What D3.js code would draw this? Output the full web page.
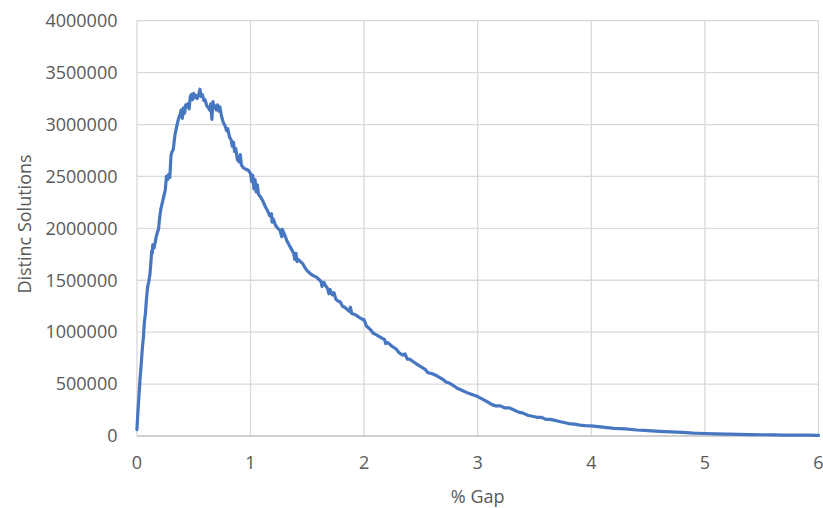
<!DOCTYPE html>
<html>
<head>
<meta charset="utf-8">
<script src="https://cdn.jsdelivr.net/npm/d3@7/dist/d3.min.js"></script>
<style>
  html, body { margin: 0; padding: 0; background: #ffffff; }
  svg { display: block; }
  text { font-family: "Open Sans", "Liberation Sans", sans-serif; fill: #595959; }
</style>
</head>
<body>
<svg id="chart" width="823" height="508"></svg>
<script>
// ---- Data ----
const gapPct = [
  0.000, 0.010, 0.020, 0.027, 0.035, 0.045, 0.050, 0.058, 0.065, 0.075,
  0.085, 0.095, 0.105, 0.115, 0.125, 0.130, 0.135, 0.140, 0.150, 0.160,
  0.170, 0.180, 0.190, 0.200, 0.210, 0.220, 0.235, 0.250, 0.260, 0.270,
  0.280, 0.290, 0.300, 0.310, 0.320, 0.335, 0.350, 0.365, 0.380, 0.390,
  0.400, 0.410, 0.420, 0.430, 0.440, 0.450, 0.460, 0.470, 0.480, 0.490,
  0.500, 0.510, 0.520, 0.530, 0.545, 0.555, 0.565, 0.575, 0.590, 0.600,
  0.615, 0.630, 0.640, 0.650, 0.660, 0.670, 0.680, 0.690, 0.700, 0.710,
  0.720, 0.730, 0.745, 0.760, 0.775, 0.790, 0.800, 0.815, 0.830, 0.840,
  0.850, 0.860, 0.870, 0.885, 0.900, 0.910, 0.920, 0.940, 0.960, 0.980,
  1.000, 1.010, 1.020, 1.030, 1.040, 1.050, 1.060, 1.070, 1.090, 1.110,
  1.130, 1.150, 1.170, 1.185, 1.190, 1.200, 1.220, 1.240, 1.260, 1.275,
  1.280, 1.300, 1.320, 1.340, 1.360, 1.380, 1.390, 1.400, 1.410, 1.420,
  1.440, 1.460, 1.480, 1.500, 1.530, 1.560, 1.580, 1.600, 1.620, 1.630,
  1.645, 1.660, 1.680, 1.690, 1.700, 1.720, 1.735, 1.750, 1.770, 1.790,
  1.810, 1.830, 1.850, 1.870, 1.880, 1.890, 1.920, 1.960, 1.990, 2.000,
  2.020, 2.040, 2.060, 2.080, 2.100, 2.130, 2.160, 2.180, 2.190, 2.210,
  2.250, 2.280, 2.310, 2.340, 2.360, 2.380, 2.400, 2.440, 2.480, 2.510,
  2.540, 2.560, 2.600, 2.640, 2.670, 2.700, 2.720, 2.750, 2.780, 2.820,
  2.860, 2.900, 2.950, 3.000, 3.050, 3.100, 3.130, 3.160, 3.200, 3.240,
  3.280, 3.320, 3.360, 3.400, 3.440, 3.480, 3.520, 3.560, 3.600, 3.640,
  3.680, 3.720, 3.760, 3.800, 3.850, 3.900, 3.950, 4.000, 4.100, 4.200,
  4.300, 4.400, 4.500, 4.600, 4.700, 4.800, 4.900, 5.000, 5.100, 5.200,
  5.300, 5.400, 5.500, 5.600, 5.700, 5.800, 5.900, 6.000
];
const distinctSolutions = [
  60000, 250000, 420000, 540000, 650000, 800000, 870000, 960000, 1090000, 1180000,
  1330000, 1440000, 1490000, 1560000, 1700000, 1780000, 1760000, 1840000, 1810000, 1860000,
  1920000, 1960000, 1990000, 2100000, 2180000, 2230000, 2300000, 2370000, 2500000, 2470000,
  2520000, 2490000, 2700000, 2740000, 2760000, 2900000, 2980000, 3050000, 3100000, 3140000,
  3060000, 3160000, 3110000, 3190000, 3170000, 3200000, 3150000, 3270000, 3290000, 3240000,
  3300000, 3260000, 3280000, 3250000, 3290000, 3340000, 3270000, 3290000, 3230000, 3240000,
  3180000, 3160000, 3140000, 3200000, 3050000, 3220000, 3160000, 3180000, 3140000, 3190000,
  3130000, 3170000, 3080000, 3020000, 2990000, 2940000, 2960000, 2880000, 2850000, 2790000,
  2830000, 2740000, 2770000, 2660000, 2640000, 2710000, 2610000, 2580000, 2570000, 2560000,
  2530000, 2450000, 2510000, 2380000, 2470000, 2350000, 2420000, 2330000, 2300000, 2260000,
  2210000, 2170000, 2120000, 2140000, 2060000, 2090000, 2030000, 2000000, 1980000, 1920000,
  1990000, 1940000, 1880000, 1840000, 1800000, 1760000, 1700000, 1760000, 1680000, 1700000,
  1680000, 1660000, 1620000, 1590000, 1560000, 1540000, 1530000, 1510000, 1490000, 1440000,
  1480000, 1450000, 1420000, 1370000, 1410000, 1360000, 1380000, 1320000, 1300000, 1290000,
  1250000, 1240000, 1220000, 1200000, 1240000, 1180000, 1170000, 1140000, 1120000, 1120000,
  1060000, 1040000, 1020000, 990000, 980000, 960000, 940000, 930000, 890000, 900000,
  860000, 840000, 800000, 780000, 790000, 740000, 740000, 710000, 680000, 660000,
  640000, 610000, 600000, 580000, 560000, 540000, 520000, 510000, 490000, 460000,
  440000, 420000, 400000, 380000, 350000, 320000, 300000, 290000, 290000, 270000,
  270000, 250000, 230000, 220000, 200000, 190000, 180000, 180000, 160000, 160000,
  150000, 140000, 130000, 120000, 115000, 105000, 100000, 97000, 85000, 74000,
  68000, 58000, 51000, 45000, 40000, 35000, 28000, 24000, 20000, 18000,
  16000, 14000, 12000, 10000, 9000, 8500, 8000, 6000
];
const xTicks = [0, 1, 2, 3, 4, 5, 6];
const yTicks = [0, 500000, 1000000, 1500000, 2000000, 2500000, 3000000, 3500000, 4000000];
const xTitle = "% Gap";
const yTitle = "Distinc Solutions";

// ---- Layout ----
const svg = d3.select("#chart");
const plot = { left: 136.9, top: 20.7, right: 818.5, bottom: 436 };

const x = d3.scaleLinear().domain([0, 6]).range([plot.left, plot.right]);
const y = d3.scaleLinear().domain([0, 4000000]).range([plot.bottom, plot.top]);

// Horizontal gridlines
svg.append("g")
  .selectAll("line")
  .data(yTicks.filter(d => d > 0))
  .join("line")
  .attr("x1", plot.left).attr("x2", plot.right)
  .attr("y1", d => y(d)).attr("y2", d => y(d))
  .attr("stroke", "#d9d9d9").attr("stroke-width", 1.3);

// Vertical gridlines
svg.append("g")
  .selectAll("line")
  .data(xTicks)
  .join("line")
  .attr("x1", d => x(d)).attr("x2", d => x(d))
  .attr("y1", plot.top).attr("y2", plot.bottom)
  .attr("stroke", "#d9d9d9").attr("stroke-width", 1.3);

// Bottom axis line
svg.append("line")
  .attr("x1", plot.left).attr("x2", plot.right)
  .attr("y1", y(0)).attr("y2", y(0))
  .attr("stroke", "#bfbfbf").attr("stroke-width", 1.3);

// Y tick labels
svg.append("g")
  .selectAll("text")
  .data(yTicks)
  .join("text")
  .attr("x", 117.5)
  .attr("y", d => y(d))
  .attr("dy", "0.35em")
  .attr("text-anchor", "end")
  .style("font-size", "18px")
  .text(d => d3.format("d")(d));

// X tick labels
svg.append("g")
  .selectAll("text")
  .data(xTicks)
  .join("text")
  .attr("x", d => x(d))
  .attr("y", 462.5)
  .attr("dy", "0.35em")
  .attr("text-anchor", "middle")
  .style("font-size", "18px")
  .text(d => d);

// Axis titles
svg.append("text")
  .attr("x", x(3))
  .attr("y", 497)
  .attr("dy", "0.35em")
  .attr("text-anchor", "middle")
  .style("font-size", "18px")
  .text(xTitle);

svg.append("text")
  .attr("transform", "translate(25, 224) rotate(-90)")
  .attr("dy", "0.35em")
  .attr("text-anchor", "middle")
  .style("font-size", "18px")
  .text(yTitle);

// Line
const points = gapPct.map((g, i) => [g, distinctSolutions[i]]);
const line = d3.line()
  .x(d => x(d[0]))
  .y(d => y(d[1]));

svg.append("path")
  .datum(points)
  .attr("d", line)
  .attr("fill", "none")
  .attr("stroke", "#4677c0")
  .attr("stroke-width", 3.2)
  .attr("stroke-linejoin", "round")
  .attr("stroke-linecap", "round");
</script>
</body>
</html>
